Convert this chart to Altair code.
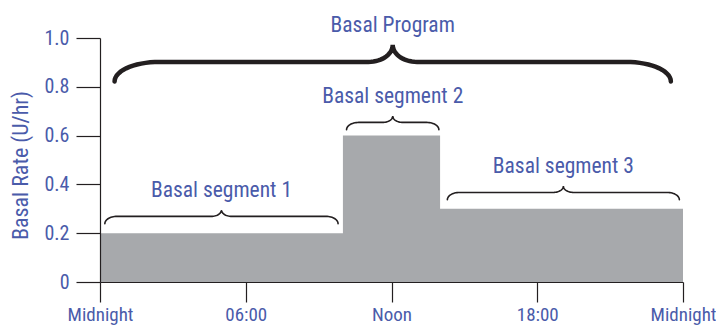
import json
import numpy as np
import pandas as pd
import altair as alt

# ---- data ----
hours = [0, 10, 14, 24]
rates = [0.2, 0.6, 0.3, 0.3]

x_ticks = [0, 6, 12, 18, 24]
x_tick_labels = ["Midnight", "06:00", "Noon", "18:00", "Midnight"]
y_ticks = [0, 0.2, 0.4, 0.6, 0.8, 1.0]
y_tick_labels = ["0", "0.2", "0.4", "0.6", "0.8", "1.0"]

brace_label = ["Basal Program", "Basal segment 1", "Basal segment 2", "Basal segment 3"]
brace_start = [0.6, 0.2, 10.15, 14.3]
brace_end = [23.5, 9.8, 13.95, 23.85]
brace_base = [0.822, 0.239, 0.624, 0.337]

# ---- style ----
BLUE = "#4a5baa"
INK = "#231f20"
FONT = "Liberation Sans Narrow, Roboto Condensed, Open Sans, sans-serif"


def brace_points(x0, x1, base, rise, tip, cw, tw, n=16):
    c = (x0 + x1) / 2.0
    flat = base + rise
    top = flat + tip
    pts = []
    t = np.linspace(0, np.pi / 2, n)
    for a in t:
        pts.append((x0 + cw - cw * np.cos(a), base + rise * np.sin(a)))
    for a in t:
        pts.append((c - tw + tw * np.sin(a), top - tip * np.cos(a)))
    for a in t[::-1]:
        pts.append((c + tw - tw * np.sin(a), top - tip * np.cos(a)))
    for a in t[::-1]:
        pts.append((x1 - cw + cw * np.cos(a), base + rise * np.sin(a)))
    return pts


rows = []
for i, lab in enumerate(brace_label):
    big = i == 0
    pts = brace_points(
        brace_start[i], brace_end[i], brace_base[i],
        rise=0.08 if big else 0.03,
        tip=0.07 if big else 0.026,
        cw=1.85 if big else 0.5,
        tw=1.0 if big else 0.42,
    )
    for k, (bx, by) in enumerate(pts):
        rows.append({"brace": lab, "big": big, "k": k, "x": bx, "y": by})
brace_df = pd.DataFrame(rows)

label_df = pd.DataFrame({
    "label": brace_label,
    "x": [(s + e) / 2 for s, e in zip(brace_start, brace_end)],
    "y": [b + (0.08 + 0.07 if i == 0 else 0.03 + 0.026) for i, b in enumerate(brace_base)],
})

area_df = pd.DataFrame({"hour": hours, "rate": rates})

x_expr = "%s[indexof(%s, datum.value)]" % (json.dumps(x_tick_labels), json.dumps(x_ticks))
y_expr = "%s[indexof(%s, datum.value)]" % (json.dumps(y_tick_labels), json.dumps(y_ticks))

xscale = alt.Scale(domain=[0, 24], nice=False, zero=False)
yscale = alt.Scale(domain=[0, 1], nice=False)

area = alt.Chart(area_df).mark_area(interpolate="step-after", color="#a7a9ac").encode(
    x=alt.X("hour:Q", scale=xscale, axis=alt.Axis(
        values=x_ticks, labelExpr=x_expr, title=None, grid=False,
        tickSize=20, tickColor=INK, domainColor=INK, tickWidth=1.2, domainWidth=1.2,
        labelFontSize=19, labelColor=BLUE, labelFont=FONT, labelPadding=3,
        labelFlush=False, labelOverlap=False, zindex=1)),
    y=alt.Y("rate:Q", scale=yscale, axis=alt.Axis(
        values=y_ticks, labelExpr=y_expr, title="Basal Rate (U/hr)", grid=False,
        tickSize=24, tickColor=INK, domainColor=INK, tickWidth=1.2, domainWidth=1.2,
        labelFontSize=20, labelColor=BLUE, labelFont=FONT, labelPadding=7,
        labelOverlap=False,
        titleFontSize=22, titleFont=FONT, titleFontWeight="normal", titleColor=BLUE,
        titleX=-80, titleY=127, titleAlign="center", titleBaseline="middle",
        titleAngle=270, zindex=1)),
)

big_brace = alt.Chart(brace_df[brace_df.big]).mark_line(
    color=INK, strokeWidth=4.5, strokeCap="round", clip=False
).encode(x=alt.X("x:Q", scale=xscale), y=alt.Y("y:Q", scale=yscale),
         detail="brace:N", order="k:Q")

small_brace = alt.Chart(brace_df[~brace_df.big]).mark_line(
    color=INK, strokeWidth=1.6, strokeCap="round", clip=False
).encode(x=alt.X("x:Q", scale=xscale), y=alt.Y("y:Q", scale=yscale),
         detail="brace:N", order="k:Q")

labels = alt.Chart(label_df).mark_text(
    font=FONT, fontSize=21.5, color=BLUE, baseline="alphabetic", align="center", dy=-13, clip=False
).encode(x=alt.X("x:Q", scale=xscale), y=alt.Y("y:Q", scale=yscale), text="label:N")

chart = alt.layer(area, big_brace, small_brace, labels).properties(
    width=583, height=244,
    autosize=alt.AutoSizeParams(type="none"),
    padding={"left": 92, "top": 30, "right": 33, "bottom": 45},
).configure_view(stroke=None)

chart.save("out.html", embed_options={"renderer": "svg", "actions": False})
